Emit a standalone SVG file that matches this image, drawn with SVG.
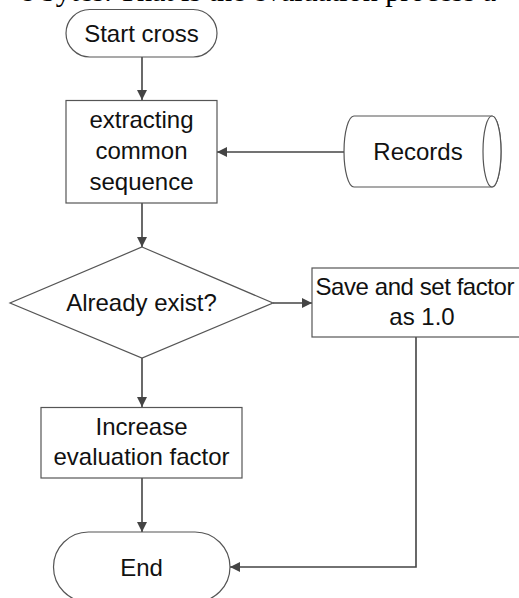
<svg xmlns="http://www.w3.org/2000/svg" width="519" height="598" viewBox="0 0 519 598">
  <style>
    .shape { fill: #ffffff; stroke: #555555; stroke-width: 1.2; }
    .label { font-family: "Liberation Sans", Arial, sans-serif; font-size: 24px; fill: #111111; text-anchor: middle; }
    .edge { fill: none; stroke: #444444; stroke-width: 1.6; }
    .body { font-family: "Liberation Serif", "Times New Roman", serif; font-size: 30px; fill: #000000; }
  </style>
  <defs>
    <marker id="arrow" viewBox="0 0 10 10" refX="10" refY="5" markerWidth="10" markerHeight="10" markerUnits="userSpaceOnUse" orient="auto">
      <path d="M0,0 L10,5 L0,10 z" fill="#444444"/>
    </marker>
  </defs>
  <rect width="519" height="598" fill="#ffffff"/>

  <!-- running text line above the chart, clipped by the page edge -->
  <text class="body" x="20" y="0.5">e bytes. That is the evaluation process a</text>

  <g id="connectors">
    <line class="edge" x1="142" y1="57" x2="142" y2="100" marker-end="url(#arrow)"/>
    <line class="edge" x1="344" y1="152" x2="217" y2="152" marker-end="url(#arrow)"/>
    <line class="edge" x1="142" y1="203" x2="142" y2="247" marker-end="url(#arrow)"/>
    <line class="edge" x1="273" y1="303" x2="312" y2="303" marker-end="url(#arrow)"/>
    <line class="edge" x1="142" y1="358" x2="142" y2="407" marker-end="url(#arrow)"/>
    <line class="edge" x1="142" y1="478" x2="142" y2="532" marker-end="url(#arrow)"/>
    <polyline class="edge" points="416,337 416,567 230,567" marker-end="url(#arrow)"/>
  </g>

  <g id="start">
    <rect class="shape" x="66" y="9.5" width="151" height="47.5" rx="23.75"/>
    <text class="label" x="141.5" y="41.5">Start cross</text>
  </g>

  <g id="extract">
    <rect class="shape" x="66" y="100.5" width="151" height="102.5"/>
    <text class="label" x="141.5" y="128">extracting</text>
    <text class="label" x="141.5" y="159">common</text>
    <text class="label" x="141.5" y="190">sequence</text>
  </g>

  <g id="records">
    <path class="shape" d="M354,116 L492,116 A9,35.5 0 0 1 492,187 L354,187 A10,35.5 0 0 1 354,116 z"/>
    <ellipse class="shape" cx="492" cy="151.5" rx="9" ry="35.5" fill="none"/>
    <text class="label" x="418" y="160">Records</text>
  </g>

  <g id="decision">
    <polygon class="shape" points="142,247 273,303 142,358 10,303"/>
    <text class="label" x="141.5" y="311">Already exist?</text>
  </g>

  <g id="save">
    <rect class="shape" x="312" y="268" width="220" height="69"/>
    <text class="label" x="415" y="295" textLength="199">Save and set factor</text>
    <text class="label" x="422" y="325">as 1.0</text>
  </g>

  <g id="increase">
    <rect class="shape" x="41" y="407.5" width="201" height="70.5"/>
    <text class="label" x="141.5" y="435">Increase</text>
    <text class="label" x="141.5" y="465">evaluation factor</text>
  </g>

  <g id="end">
    <rect class="shape" x="53.5" y="532" width="176.5" height="70" rx="35"/>
    <text class="label" x="141.5" y="576">End</text>
  </g>
</svg>
